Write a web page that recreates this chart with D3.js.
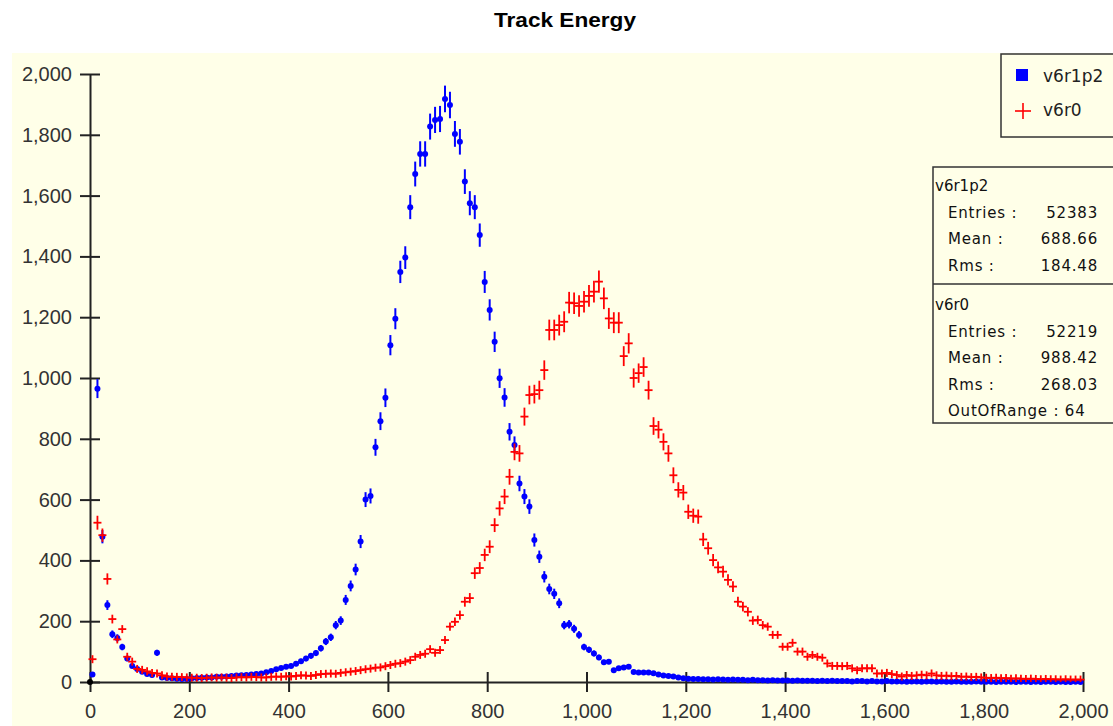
<!DOCTYPE html>
<html>
<head>
<meta charset="utf-8">
<script src="https://cdn.jsdelivr.net/npm/d3@7"></script>
<style>
  body { margin:0; background:#fff; }
  svg { display:block; }
</style>
</head>
<body>
<div id="chart"></div>
<script>
// histogram bins: 200 bins of width 10 from 0 to 2000
var binStart = 0, binWidth = 10;

var blueCounts = [
  25,965,478,253,157,145,115,77,53,43, 34,26,23,96,15,13,12,11,10,10,
  12,13,14,15,15,17,17,18,20,21, 22,23,25,26,28,32,36,42,46,50,
  53,60,68,77,86,95,111,133,147,187, 202,270,316,370,462,600,612,772,858,935,
  1108,1195,1349,1396,1562,1671,1737,1737,1827,1849, 1852,1918,1898,1803,1777,1646,1575,1562,1470,1316,
  1224,1119,999,936,823,780,653,610,577,467, 412,346,306,290,259,187,190,175,155,115,
  106,94,81,65,67,39,45,48,50,33, 31,31,31,29,25,21,20,18,15,12,
  11,10,10,9,9,8,9,8,7,8, 7,7,6,7,6,6,5,6,5,5,
  5,4,5,4,4,4,3,4,3,4, 3,3,3,2,3,3,2,3,2,2,
  3,2,2,2,1,2,2,1,2,2, 1,2,1,1,2,1,1,1,2,1,
  1,1,0,1,1,1,0,1,1,0, 1,0,1,1,0,1,0,0,1,0
];

var redCounts = [
  75,524,483,339,207,140,174,83,67,43, 40,35,30,28,22,18,17,17,16,15,
  14,14,13,14,15,14,15,14,13,15, 16,15,17,16,15,15,17,18,17,19,
  18,20,22,21,20,23,26,27,28,27, 30,32,34,36,39,42,44,47,48,52,
  56,60,62,67,72,83,89,93,108,96, 105,138,182,198,220,264,276,358,375,418,
  445,516,571,610,675,757,752,873,944,947, 960,1026,1158,1158,1174,1185,1248,1246,1237,1251,
  1270,1284,1317,1262,1196,1182,1182,1072,1114,1000, 1016,1036,960,842,830,790,752,680,632,623,
  560,547,544,469,440,401,377,363,336,314, 264,248,231,202,204,187,182,155,155,116,
  116,129,100,100,83,89,83,80,61,53, 53,52,53,45,39,45,45,45,28,28,
  30,26,23,18,23,20,22,24,22,28, 22,20,21,19,20,17,18,16,17,15,
  14,13,14,12,13,11,12,11,10,11, 10,9,10,9,9,8,9,8,8,8
];

var xTicks = [0,200,400,600,800,1000,1200,1400,1600,1800,2000];
var yTicks = [0,200,400,600,800,1000,1200,1400,1600,1800,2000];

var seriesNames = ["v6r1p2", "v6r0"];
var statsRows = [
  { name:"v6r1p2", rows:[["Entries :", "52383"], ["Mean :", "688.66"], ["Rms :", "184.48"]] },
  { name:"v6r0",   rows:[["Entries :", "52219"], ["Mean :", "988.42"], ["Rms :", "268.03"], ["OutOfRange : 64", ""]] }
];

var W = 1113, H = 726;
var margin = {top:74, left:90, right:30, bottom:44},
    width  = W - margin.left - margin.right,
    height = H - margin.top - margin.bottom;

var svg = d3.select("#chart").append("svg")
            .attr("width", W).attr("height", H);

// plot background
svg.append("rect")
   .attr("x", 12).attr("y", 53)
   .attr("width", W - 12).attr("height", H - 53)
   .attr("fill", "#ffffe8");

svg.append("text")
   .attr("x", 565).attr("y", 27)
   .attr("text-anchor", "middle")
   .style("font-family", "Liberation Sans, Arial, sans-serif")
   .style("font-weight", "bold")
   .style("font-size", "20px")
   .attr("textLength", 142).attr("lengthAdjust", "spacingAndGlyphs")
   .attr("fill", "#000")
   .text("Track Energy");

var g = svg.append("g")
           .attr("transform", "translate(" + margin.left + "," + margin.top + ")");

var x = d3.scaleLinear().domain([0, 2000]).range([0, width]);
var y = d3.scaleLinear().domain([0, 2000]).range([height, 0]);

function binData(counts) {
  return counts.map(function (c, i) {
    return { x: binStart + binWidth * i + binWidth / 2, y: c, err: Math.sqrt(c) };
  });
}
var blue = binData(blueCounts), red = binData(redCounts);

// axes
var yAxis = d3.axisLeft(y).tickValues(yTicks).tickFormat(d3.format(","))
              .tickSize(10).tickSizeOuter(0).tickPadding(8);
var xAxis = d3.axisBottom(x).tickValues(xTicks).tickFormat(d3.format(","))
              .tickSize(10).tickSizeOuter(0).tickPadding(12);

var gy = g.append("g").call(yAxis);
gy.selectAll(".tick line").attr("x1", 10);
var gx = g.append("g").attr("transform", "translate(0," + height + ")").call(xAxis);
gx.selectAll(".tick line").attr("y1", -10);

[gx, gy].forEach(function (a) {
  a.select(".domain").attr("stroke", "#222").attr("stroke-width", 2);
  a.selectAll(".tick line").attr("stroke", "#222").attr("stroke-width", 2);
  a.selectAll(".tick text")
   .style("font-family", "Liberation Sans, Arial, sans-serif")
   .style("font-size", "20px")
   .attr("fill", "#333");
});

// blue points with error bars
var gb = g.append("g");
gb.selectAll("line").data(blue).enter().append("line")
  .attr("x1", function (d) { return x(d.x); })
  .attr("x2", function (d) { return x(d.x); })
  .attr("y1", function (d) { return y(d.y + d.err); })
  .attr("y2", function (d) { return Math.min(y(d.y - d.err), height); })
  .attr("stroke", "#0000ff").attr("stroke-width", 2);
gb.selectAll("circle").data(blue).enter().append("circle")
  .attr("cx", function (d) { return x(d.x); })
  .attr("cy", function (d) { return y(d.y); })
  .attr("r", 3)
  .attr("fill", "#0000ff");

// red crosses with error bars
var gr = g.append("g").attr("stroke", "#ff0000").attr("stroke-width", 1.8);
gr.selectAll("line.h").data(red).enter().append("line").attr("class", "h")
  .attr("x1", function (d) { return x(d.x) - 4; })
  .attr("x2", function (d) { return x(d.x) + 4; })
  .attr("y1", function (d) { return y(d.y); })
  .attr("y2", function (d) { return y(d.y); });
gr.selectAll("line.v").data(red).enter().append("line").attr("class", "v")
  .attr("x1", function (d) { return x(d.x); })
  .attr("x2", function (d) { return x(d.x); })
  .attr("y1", function (d) { return Math.min(y(d.y + d.err), y(d.y) - 4); })
  .attr("y2", function (d) { return Math.min(Math.max(y(d.y - d.err), y(d.y) + 4), height); });

g.append("circle").attr("cx", x(0)).attr("cy", y(0)).attr("r", 3).attr("fill", "#000");

// legend
var font2 = "DejaVu Sans, Verdana, sans-serif";
var lg = svg.append("g");
lg.append("rect").attr("x", 1001).attr("y", 54).attr("width", 130).attr("height", 83)
  .attr("fill", "none").attr("stroke", "#333").attr("stroke-width", 1.5);
lg.append("rect").attr("x", 1016).attr("y", 69).attr("width", 12).attr("height", 12).attr("fill", "#0000ff");
lg.append("line").attr("x1", 1015).attr("x2", 1031).attr("y1", 111).attr("y2", 111)
  .attr("stroke", "#ff0000").attr("stroke-width", 1.6);
lg.append("line").attr("x1", 1023).attr("x2", 1023).attr("y1", 103).attr("y2", 119)
  .attr("stroke", "#ff0000").attr("stroke-width", 1.6);
lg.selectAll("text").data(seriesNames).enter().append("text")
  .attr("x", 1043).attr("y", function (d, i) { return 82 + i * 34; })
  .style("font-family", font2).style("font-size", "17px")
  .attr("fill", "#222")
  .text(function (d) { return d; });

// stats box
var sb = svg.append("g");
sb.append("rect").attr("x", 933).attr("y", 167).attr("width", 200).attr("height", 256)
  .attr("fill", "none").attr("stroke", "#333").attr("stroke-width", 1.5);
sb.append("line").attr("x1", 933).attr("x2", 1113).attr("y1", 284).attr("y2", 284)
  .attr("stroke", "#333").attr("stroke-width", 1.5);
var nameY = [191, 310];
statsRows.forEach(function (s, k) {
  var yy = nameY[k];
  sb.append("text").attr("x", 935).attr("y", yy)
    .style("font-family", font2).style("font-size", "15px").attr("fill", "#111")
    .text(s.name);
  s.rows.forEach(function (r) {
    yy += 26.5;
    sb.append("text").attr("x", 948).attr("y", yy)
      .style("font-family", font2).style("font-size", "15px").style("letter-spacing", "0.8px")
      .attr("fill", "#111").text(r[0]);
    if (r[1]) sb.append("text").attr("x", 1098).attr("y", yy).attr("text-anchor", "end")
      .style("font-family", font2).style("font-size", "15px").style("letter-spacing", "0.8px")
      .attr("fill", "#111").text(r[1]);
  });
});
</script>
</body>
</html>
